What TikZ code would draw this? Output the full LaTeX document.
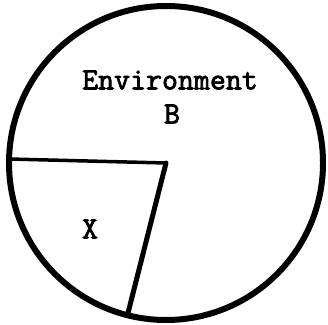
\documentclass[tikz,border=0pt]{standalone}
\usepackage{fontspec}
\newfontfamily\typew[FakeBold=2.5]{Latin Modern Mono}
\begin{document}
\begin{tikzpicture}[x=1pt,y=1pt,
  lbl/.style={font=\typew\fontsize{31}{36}\selectfont, inner sep=0pt},
  rim/.style={line width=6pt},
  thinspoke/.style={line width=3.5pt, line cap=round},
  thickspoke/.style={line width=5pt, line cap=round}]
\useasboundingbox (0,0) rectangle (328,324);
\draw[rim] (166,161) circle (157);
\coordinate (c) at (166,161);
\coordinate (l) at (9,165);
\coordinate (b) at (128,11);
\draw[thinspoke] (l) -- (c);
\draw[thickspoke] (c) -- (b);
\node[lbl] (env) at (170,244) {Environment};
\node[lbl] (B) at (172,210) {B};
\node[lbl] (X) at (90,95) {X};
\end{tikzpicture}
\end{document}
